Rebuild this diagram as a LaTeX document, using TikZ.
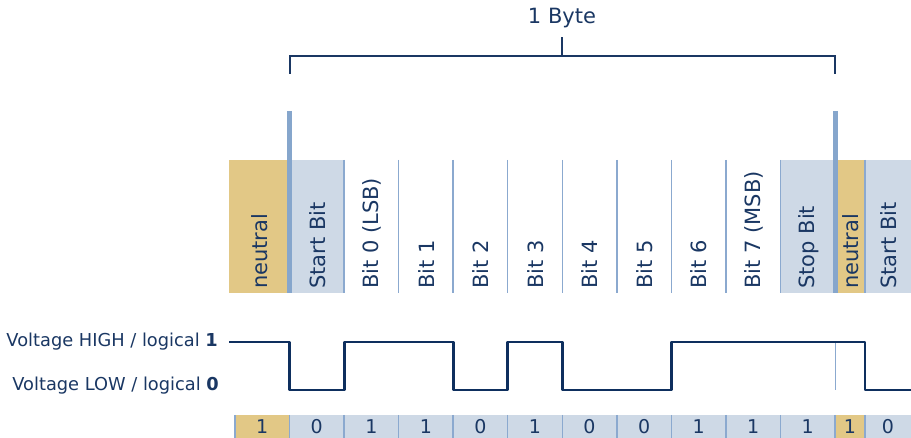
\documentclass[tikz,border=0pt]{standalone}
\usepackage{fontspec}
\setmainfont{DejaVu Sans}
\definecolor{neutralY}{HTML}{E2C886}
\definecolor{bitBlue}{HTML}{CED9E6}
\definecolor{sepBlue}{HTML}{8BA9CF}
\definecolor{barBlue}{HTML}{86A6CC}
\definecolor{navy}{HTML}{1A3763}
\definecolor{wave}{HTML}{0E2F5E}
\begin{document}
\begin{tikzpicture}[x=1pt,y=-1pt,
  lbl/.style={text=navy,font=\fontsize{17.8}{20}\selectfont,inner sep=0pt},
  collbl/.style={text=navy,font=\fontsize{21}{24}\selectfont,inner sep=0pt,rotate=90,anchor=west},
  digit/.style={text=navy,font=\fontsize{19}{21}\selectfont,inner sep=0pt},
  sep/.style={draw=sepBlue,line width=1.4pt},
  bar/.style={draw=barBlue,line width=5pt},
  wavestyle/.style={draw=wave,line width=2.9pt,line join=round},
  brack/.style={draw=navy,line width=2pt}]
\useasboundingbox (0,0) rectangle (911,438);
% --- bracket ---
\node[text=navy,font=\fontsize{21}{24}\selectfont,inner sep=0pt] (byte) at (562,18) {1 Byte};
\coordinate (bl) at (290,74);
\coordinate (br) at (835,74);
\coordinate (bt) at (562,37);
\draw[brack] (bl) -- (290,56) -- (835,56) -- (br);
\draw[brack] (562,56) -- (bt);
% --- top row fills ---
\fill[neutralY] (229,160) rectangle (289.5,293);
\fill[bitBlue] (289.5,160) rectangle (344.05,293);
\fill[bitBlue] (780.45,160) rectangle (835,293);
\fill[neutralY] (835,160) rectangle (865,293);
\fill[bitBlue] (865,160) rectangle (911,293);
% separators top row
\foreach \i in {2,...,10}{
  \draw[sep] ({289.5+54.55*(\i-1)},160) -- ({289.5+54.55*(\i-1)},293);
}
\draw[sep] (865,160) -- (865,293);
% thick bars
\draw[bar] (289.5,111) -- (289.5,293);
\draw[bar] (835,111) -- (835,293);
% top row labels
\node[collbl] (n0) at (260,289) {neutral};
\node[collbl] (c0) at (317.5,289) {Start Bit};
\node[collbl] (c1) at (371.8,289) {Bit 0 (LSB)};
\foreach \k in {1,...,6}{
  \node[collbl] (c\k b) at ({371.8+54.55*\k},289) {Bit \k};
}
\node[collbl] (c8) at (753.7,289) {Bit 7 (MSB)};
\node[collbl] (c9) at (808.2,289) {Stop Bit};
\node[collbl] (n1) at (851,289) {neutral};
\node[collbl] (c10) at (888.5,289) {Start Bit};
% --- voltage labels ---
\node[lbl,anchor=east] (hi) at (218,342) {Voltage HIGH / logical \textbf{1}};
\node[lbl,anchor=east] (lo) at (219,386) {Voltage LOW / logical \textbf{0}};
% thin marker
\draw[draw=sepBlue,line width=1pt] (835,342) -- (835,390);
% waveform
\draw[wavestyle] (229,342) -- (289.5,342) -- (289.5,390) -- (344.05,390) -- (344.05,342)
  -- (453.15,342) -- (453.15,390) -- (507.7,390) -- (507.7,342) -- (562.25,342)
  -- (562.25,390) -- (671.35,390) -- (671.35,342) -- (865,342) -- (865,390) -- (911,390);
% --- bottom row ---
\fill[neutralY] (235,415) rectangle (289.5,438);
\fill[bitBlue] (289.5,415) rectangle (835,438);
\fill[neutralY] (835,415) rectangle (865,438);
\fill[bitBlue] (865,415) rectangle (911,438);
\draw[sep] (235,415) -- (235,438);
\foreach \i in {1,...,11}{
  \draw[sep] ({289.5+54.55*(\i-1)},415) -- ({289.5+54.55*(\i-1)},438);
}
\draw[sep] (865,415) -- (865,438);
\node[digit] (v0) at (262.25,426.5) {1};
\foreach \v [count=\k] in {0,1,1,0,1,0,0,1,1,1}{
  \node[digit] (v\k) at ({289.5+54.55*(\k-0.5)},426.5) {\v};
}
\node[digit] (v11) at (850,426.5) {1};
\node[digit] (v12) at (888,426.5) {0};
\end{tikzpicture}
\end{document}
